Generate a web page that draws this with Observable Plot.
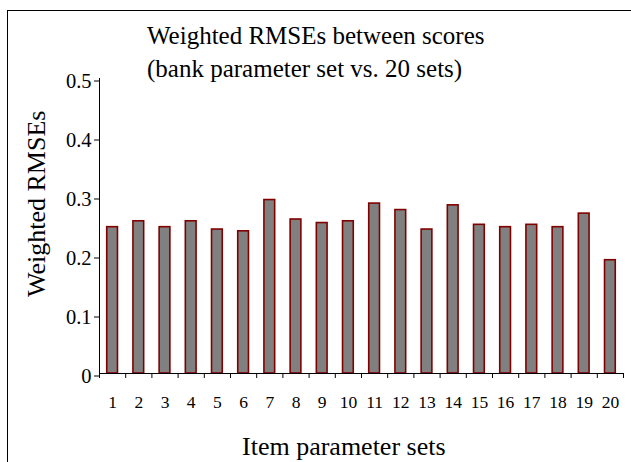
<!DOCTYPE html>
<html>
<head>
<meta charset="utf-8">
<script src="https://cdn.jsdelivr.net/npm/d3@7"></script>
<script src="https://cdn.jsdelivr.net/npm/@observablehq/plot@0.6"></script>
<style>
  html, body { margin: 0; padding: 0; background: #fff; }
  #wrap { position: relative; width: 631px; height: 462px; overflow: hidden; font-family: "Liberation Serif", "Times New Roman", serif; }
  #frame { position: absolute; left: 7px; top: 10px; width: 700px; height: 520px; border: 1.5px solid #000; box-sizing: border-box; }
  #chart svg, #labels { position: absolute; left: 0; top: 0; }
  #labels text { font-family: "Liberation Serif", "Times New Roman", serif; fill: #000; }
</style>
</head>
<body>
<div id="wrap">
  <div id="chart"></div>
  <div id="frame"></div>
  <svg id="labels" width="631" height="462">
    <text x="147" y="43.5" font-size="25">Weighted RMSEs between scores</text>
    <text x="147" y="77" font-size="25">(bank parameter set vs. 20 sets)</text>
    <text x="242" y="455" font-size="26">Item parameter sets</text>
    <text transform="translate(45,297) rotate(-90)" font-size="26">Weighted RMSEs</text>
  </svg>
</div>
<script>
const sets = [1,2,3,4,5,6,7,8,9,10,11,12,13,14,15,16,17,18,19,20];
const rmse = [0.248,0.258,0.248,0.258,0.244,0.241,0.294,0.261,0.255,0.258,0.288,0.277,0.244,0.285,0.252,0.248,0.252,0.248,0.271,0.192];
const yTicks = [0,0.1,0.2,0.3,0.4,0.5];
const xBoundaries = [0.5,1.5,2.5,3.5,4.5,5.5,6.5,7.5,8.5,9.5,10.5,11.5,12.5,13.5,14.5,15.5,16.5,17.5,18.5,19.5,20.5];

const data = sets.map((s, i) => ({set: s, value: rmse[i]}));
const halfBar = 0.205;

const chart = Plot.plot({
  width: 631,
  height: 462,
  marginLeft: 99,
  marginRight: 8,
  marginTop: 78,
  marginBottom: 89,
  style: {fontFamily: "Liberation Serif, serif", color: "#000", background: "transparent"},
  x: {domain: [0.5, 20.5]},
  y: {domain: [0, 0.5]},
  marks: [
    Plot.rectY(data, {x1: d => d.set - halfBar, x2: d => d.set + halfBar, y: "value", fill: "#808080", stroke: "#800000", strokeWidth: 1.6}),
    Plot.ruleY([0], {stroke: "#000", strokeWidth: 1}),
    Plot.ruleX([0.5], {stroke: "#000", strokeWidth: 1}),
    Plot.axisY({ticks: yTicks, tickSize: 5, tickPadding: 3, fontSize: 20.5, dy: 2.5, tickFormat: d => d === 0 ? "0" : d.toFixed(1), label: null}),
    Plot.axisX({ticks: xBoundaries, tickSize: 5, tickFormat: () => "", label: null}),
    Plot.axisX({ticks: sets, tickSize: 0, tickPadding: 22, fontSize: 17.5, tickFormat: d => String(d), label: null})
  ]
});
document.getElementById("chart").appendChild(chart);
</script>
</body>
</html>
